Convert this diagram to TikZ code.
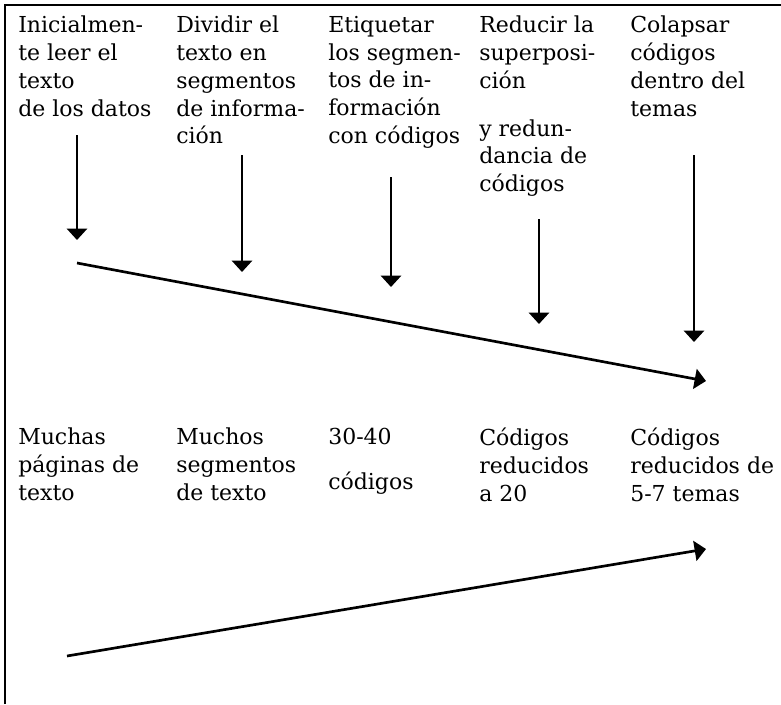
\documentclass[tikz,border=0pt]{standalone}
\usepackage{fontspec}
\setmainfont{DejaVu Serif}
\usetikzlibrary{arrows.meta}
\tikzset{
  txt/.style={anchor=north west, inner sep=0pt, align=left, font=\fontsize{16.5}{20.8}\selectfont},
  flow/.style={line width=2pt, -{Triangle[width=15pt,length=8.5pt]}},
  frame/.style={line width=1.5pt}
}
\begin{document}
\begin{tikzpicture}[x=0.75pt,y=-0.75pt]
\useasboundingbox (0,0) rectangle (781,704);
% frame
\coordinate (fl) at (5,704);
\coordinate (fc) at (5,5);
\coordinate (fr) at (781,5);
\draw[frame] (fl) -- (fc) -- (fr);
% top texts
\node[txt] (t1) at (18,16) {Inicialmen-\\te leer el\\texto\\de los datos};
\node[txt] (t2) at (176,16) {Dividir el\\texto en\\segmentos\\de informa-\\ción};
\node[txt] (t3) at (328,16) {Etiquetar\\los segmen-\\tos de in-\\formación\\con códigos};
\node[txt] (t4) at (479,16) {Reducir la\\superposi-\\ción\\[15pt]y redun-\\dancia de\\códigos};
\node[txt] (t5) at (630,16) {Colapsar\\códigos\\dentro del\\temas};
% bottom texts
\node[txt] (b1) at (18,428) {Muchas\\páginas de\\texto};
\node[txt] (b2) at (176,428) {Muchos\\segmentos\\de texto};
\node[txt] (b3) at (328,428) {30-40\\[12.5pt]códigos};
\node[txt] (b4) at (479,428) {Códigos\\reducidos\\a 20};
\node[txt] (b5) at (630,428) {Códigos\\reducidos de\\5-7 temas};
% vertical arrows
\coordinate (a1s) at (77,135);  \coordinate (a1e) at (77,240);
\coordinate (a2s) at (242,155); \coordinate (a2e) at (242,272);
\coordinate (a3s) at (391,177); \coordinate (a3e) at (391,287);
\coordinate (a4s) at (539,219); \coordinate (a4e) at (539,324);
\coordinate (a5s) at (694,155); \coordinate (a5e) at (694,342);
\draw[flow] (a1s) -- (a1e);
\draw[flow] (a2s) -- (a2e);
\draw[flow] (a3s) -- (a3e);
\draw[flow] (a4s) -- (a4e);
\draw[flow] (a5s) -- (a5e);
% diagonal arrows
\coordinate (d1s) at (77,263);  \coordinate (d1e) at (706,381);
\coordinate (d2s) at (67,656);  \coordinate (d2e) at (706,549);
\draw[flow] (d1s) -- (d1e);
\draw[flow] (d2s) -- (d2e);
\end{tikzpicture}
\end{document}
